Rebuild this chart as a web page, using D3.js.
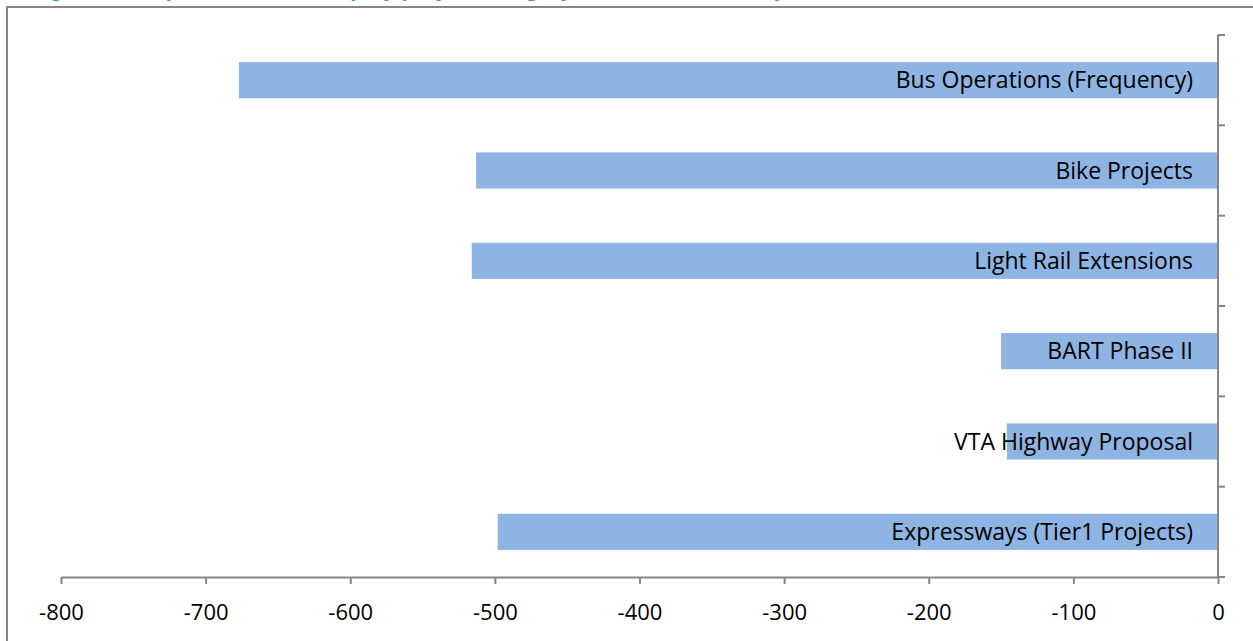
<!DOCTYPE html>
<html>
<head>
<meta charset="utf-8">
<script src="https://cdn.jsdelivr.net/npm/d3@7"></script>
<style>
  body { margin: 0; background: #fff; }
  svg { display: block; }
</style>
</head>
<body>
<svg id="chart"></svg>
<script>
// project categories, top to bottom
const categories = [
  "Bus Operations (Frequency)",
  "Bike Projects",
  "Light Rail Extensions",
  "BART Phase II",
  "VTA Highway Proposal",
  "Expressways (Tier1 Projects)"
];
const values = [-677, -513, -516, -150, -146, -498];
const xTicks = [-800, -700, -600, -500, -400, -300, -200, -100, 0];

const width = 1253, height = 641;
const barColor = "#8eb4e3";
const axisColor = "#868686";
const margin = { top: 35, right: 35, bottom: 64, left: 61 };

const svg = d3.select("#chart").attr("width", width).attr("height", height);

// title line sits above the frame and is cut off by the page edge
svg.append("text")
  .attr("x", 30).attr("y", -4)
  .attr("font-family", "Liberation Sans, Arial, sans-serif")
  .attr("font-size", 22).attr("font-weight", "bold")
  .attr("fill", "#3cb043")
  .text("Figure: Cost per new transit trip by project category, Santa Clara County");

// chart frame
svg.append("path")
  .attr("d", "M7,641V7H1253")
  .attr("fill", "none")
  .attr("stroke", axisColor)
  .attr("stroke-width", 2);

const x = d3.scaleLinear()
  .domain([-800, 0])
  .range([margin.left, width - margin.right]);

const y = d3.scaleBand()
  .domain(categories)
  .range([margin.top, height - margin.bottom])
  .paddingInner(0.6)
  .paddingOuter(0.3);

const step = y.step();

// bars
svg.append("g")
  .selectAll("rect")
  .data(categories)
  .enter()
  .append("rect")
  .attr("x", (d, i) => x(values[i]))
  .attr("y", d => y(d))
  .attr("width", (d, i) => x(0) - x(values[i]))
  .attr("height", y.bandwidth())
  .attr("fill", barColor);

// category labels, right aligned just left of zero line
svg.append("g")
  .selectAll("text")
  .data(categories)
  .enter()
  .append("text")
  .attr("x", x(0) - 25)
  .attr("y", d => y(d) + y.bandwidth() / 2)
  .attr("dy", "0.35em")
  .attr("text-anchor", "end")
  .attr("font-family", "Open Sans, sans-serif")
  .attr("font-size", 23)
  .attr("fill", "#000")
  .text(d => d);

// x axis
const xAxis = svg.append("g")
  .attr("transform", `translate(0,${height - margin.bottom})`)
  .call(d3.axisBottom(x).tickValues(xTicks).tickFormat(d => String(d))
    .tickSize(7).tickSizeOuter(0).tickPadding(20));
xAxis.select(".domain").attr("stroke", axisColor).attr("stroke-width", 2);
xAxis.selectAll(".tick line").attr("stroke", axisColor).attr("stroke-width", 2);
xAxis.selectAll(".tick text")
  .attr("font-family", "Open Sans, sans-serif")
  .attr("font-size", 22)
  .attr("fill", "#000");

// y axis at zero, ticks on band boundaries
const yAxisG = svg.append("g");
yAxisG.append("line")
  .attr("x1", x(0)).attr("x2", x(0))
  .attr("y1", margin.top).attr("y2", height - margin.bottom)
  .attr("stroke", axisColor).attr("stroke-width", 2);
const boundaries = d3.range(categories.length + 1).map(i => margin.top + i * step);
yAxisG.selectAll("line.tick")
  .data(boundaries)
  .enter()
  .append("line")
  .attr("class", "tick")
  .attr("x1", x(0)).attr("x2", x(0) + 7)
  .attr("y1", d => d).attr("y2", d => d)
  .attr("stroke", axisColor).attr("stroke-width", 2);
</script>
</body>
</html>
